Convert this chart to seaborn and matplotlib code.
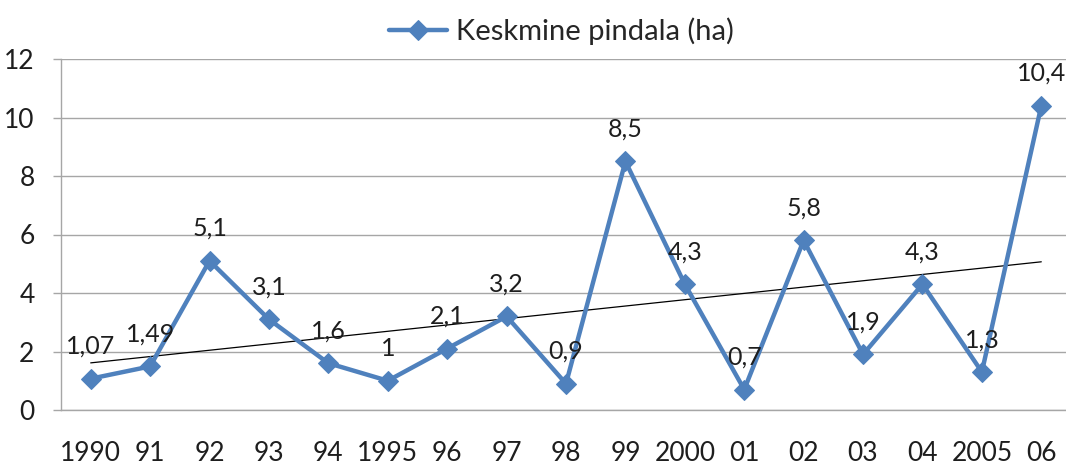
import numpy as np
import pandas as pd
import matplotlib
matplotlib.use("Agg")
import matplotlib.pyplot as plt
import seaborn as sns

years = ["1990", "91", "92", "93", "94", "1995", "96", "97", "98", "99",
         "2000", "01", "02", "03", "04", "2005", "06"]
area = [1.07, 1.49, 5.1, 3.1, 1.6, 1.0, 2.1, 3.2, 0.9, 8.5,
        4.3, 0.7, 5.8, 1.9, 4.3, 1.3, 10.4]
labels = ["1,07", "1,49", "5,1", "3,1", "1,6", "1", "2,1", "3,2", "0,9", "8,5",
          "4,3", "0,7", "5,8", "1,9", "4,3", "1,3", "10,4"]
series_name = "Keskmine pindala (ha)"

sns.set_theme(style="white")
plt.rcParams["font.family"] = ["Lato", "DejaVu Sans"]

blue = "#4F81BD"
grid = "#A6A6A6"
text = "#1E1E1E"

df = pd.DataFrame({"idx": np.arange(len(years)), "val": area})

fig = plt.figure(figsize=(10.66, 4.70), dpi=100)
ax = fig.add_axes([61 / 1066, 1 - 410 / 470, (1071 - 61) / 1066, (410 - 59) / 470])

# linear trend
coef = np.polyfit(df["idx"], df["val"], 1)
ax.plot(df["idx"], np.polyval(coef, df["idx"]), color="black", lw=0.9, zorder=2)

sns.lineplot(data=df, x="idx", y="val", ax=ax, color=blue, lw=3.2,
             marker="D", markersize=10, markeredgecolor=blue,
             label=series_name, zorder=3)

for i, (v, t) in enumerate(zip(area, labels)):
    ax.annotate(t, (i, v), xytext=(0, 15), textcoords="offset points",
                ha="center", va="bottom", fontsize=18, color=text)

ax.set_xlim(-0.5, len(years) - 0.5)
ax.set_ylim(0, 12)
ax.set_yticks(range(0, 13, 2))
ax.set_xticks(range(len(years)))
ax.set_xticklabels(years)
ax.set_xlabel("")
ax.set_ylabel("")

ax.yaxis.grid(True, color=grid, lw=1)
ax.xaxis.grid(False)
for s in ["top", "right"]:
    ax.spines[s].set_visible(False)
for s in ["left", "bottom"]:
    ax.spines[s].set_color(grid)
    ax.spines[s].set_linewidth(1)

# category boundary ticks on the x axis
ax.set_xticks(np.arange(-0.5, len(years), 1), minor=True)
ax.tick_params(axis="x", which="minor", length=6, color=grid, width=1, direction="out")
ax.tick_params(axis="x", which="major", length=0, pad=22, labelsize=19, labelcolor=text)
ax.tick_params(axis="y", which="major", length=6, color=grid, width=1, direction="out",
               pad=13, labelsize=19, labelcolor=text)
ax.tick_params(axis="both", bottom=True, left=True)

leg = ax.legend(loc="upper center", bbox_to_anchor=(0.5 - 5 / 1010, 1 + 53 / 351),
                frameon=False, fontsize=21, handlelength=2.0, handletextpad=0.3,
                borderaxespad=0)
for h in leg.get_lines():
    h.set_markersize(10)

fig.savefig("out.png", dpi=100, facecolor="white")
